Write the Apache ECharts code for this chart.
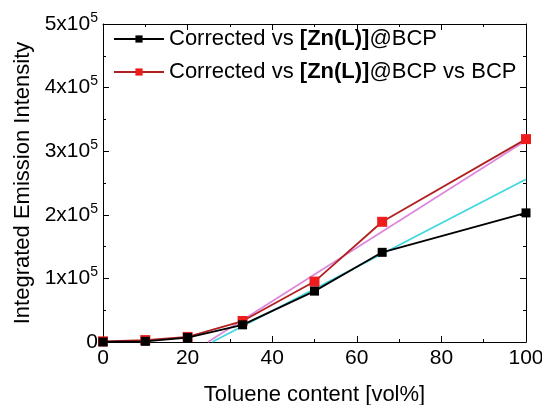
<!DOCTYPE html>
<html>
<head>
<meta charset="utf-8">
<script src="https://cdn.jsdelivr.net/npm/echarts@6/dist/echarts.min.js"></script>
<style>
  html, body { margin: 0; padding: 0; background: #fff; }
</style>
</head>
<body>
<div id="chart" style="width: 542px;height:405px;"></div>
<script>
// data
var toluene = [0, 10, 20, 33, 50, 66, 100]
var corrected = [0, 1000, 7000, 27000, 80000, 141000, 203000]
var correctedBcp = [1000, 3000, 8000, 33000, 95000, 189000, 319000]
// linear fits (start and end points)
var fitCorrected = [[25.8, 0], [100, 256000]]
var fitCorrectedBcp = [[24.8, 0], [100, 317000]]

var font = 'Liberation Sans, Arial, sans-serif'

function pair (xs, ys) {
  return xs.map(function (x, i) { return [x, ys[i]] })
}

var names = ['Corrected vs [Zn(L)]@BCP', 'Corrected vs [Zn(L)]@BCP vs BCP']

var axisBase = {
  type: 'value',
  axisLine: { show: true, onZero: false, lineStyle: { color: '#000', width: 1 } },
  axisTick: { show: true, inside: true, length: 6, lineStyle: { color: '#000' } },
  minorTick: { show: true, splitNumber: 2, length: 3, lineStyle: { color: '#000' } },
  splitLine: { show: false }
}

var option = {
  animation: false,
  backgroundColor: '#fff',
  grid: { left: 103, right: 16, top: 24, bottom: 63, outerBoundsMode: 'none' },
  legend: {
    left: 108,
    top: 23,
    orient: 'vertical',
    itemWidth: 50,
    itemHeight: 9,
    itemGap: 11,
    data: names,
    formatter: function (name) {
      if (name === names[0]) return 'Corrected vs {b|[Zn(L)]}@BCP'
      return 'Corrected vs {b|[Zn(L)]}@BCP vs BCP'
    },
    textStyle: {
      fontFamily: font,
      fontSize: 22,
      color: '#000',
      padding: [0, 0, 0, 0],
      rich: { b: { fontFamily: font, fontSize: 22, fontWeight: 'bold', color: '#000' } }
    }
  },
  xAxis: [
    Object.assign({}, axisBase, {
      min: 0,
      max: 100,
      interval: 20,
      position: 'bottom',
      name: 'Toluene content [vol%]',
      nameLocation: 'middle',
      nameGap: 42,
      nameTextStyle: { fontFamily: font, fontSize: 22, color: '#000' },
      axisLabel: { fontFamily: font, fontSize: 21, color: '#000', margin: 6 }
    }),
    Object.assign({}, axisBase, {
      min: 0,
      max: 100,
      interval: 20,
      position: 'top',
      axisLabel: { show: false }
    })
  ],
  yAxis: [
    Object.assign({}, axisBase, {
      min: 0,
      max: 500000,
      interval: 100000,
      position: 'left',
      name: 'Integrated Emission Intensity',
      nameLocation: 'middle',
      nameGap: 64,
      nameTextStyle: { fontFamily: font, fontSize: 22, color: '#000' },
      axisLabel: {
        margin: 5,
        formatter: function (v) {
          if (v === 0) return '{n|0}'
          return '{n|' + (v / 100000) + 'x10}{s|5}'
        },
        rich: {
          n: { fontFamily: font, fontSize: 21, color: '#000' },
          s: { fontFamily: font, fontSize: 14, color: '#000', verticalAlign: 'top', padding: [0, 0, 12, 0] }
        }
      }
    }),
    Object.assign({}, axisBase, {
      min: 0,
      max: 500000,
      interval: 100000,
      position: 'right',
      axisLabel: { show: false }
    })
  ],
  series: [
    {
      name: names[0],
      type: 'line',
      data: pair(toluene, corrected),
      symbol: 'rect',
      symbolSize: 9,
      color: '#000',
      lineStyle: { color: '#000', width: 1.8 },
      itemStyle: { color: '#000' },
      z: 4
    },
    {
      name: names[1],
      type: 'line',
      data: pair(toluene, correctedBcp),
      symbol: 'rect',
      symbolSize: 10,
      color: '#e41a1c',
      lineStyle: { color: '#b02020', width: 1.8 },
      itemStyle: { color: '#ee1c1c' },
      z: 3
    },
    {
      name: 'fit1',
      type: 'line',
      data: fitCorrected,
      symbol: 'none',
      lineStyle: { color: '#40d8e0', width: 1.8 },
      z: 2
    },
    {
      name: 'fit2',
      type: 'line',
      data: fitCorrectedBcp,
      symbol: 'none',
      lineStyle: { color: '#dd88dd', width: 1.8 },
      z: 2
    }
  ]
}

var myChart = echarts.init(document.getElementById('chart'))
myChart.setOption(option)
</script>
</body>
</html>
